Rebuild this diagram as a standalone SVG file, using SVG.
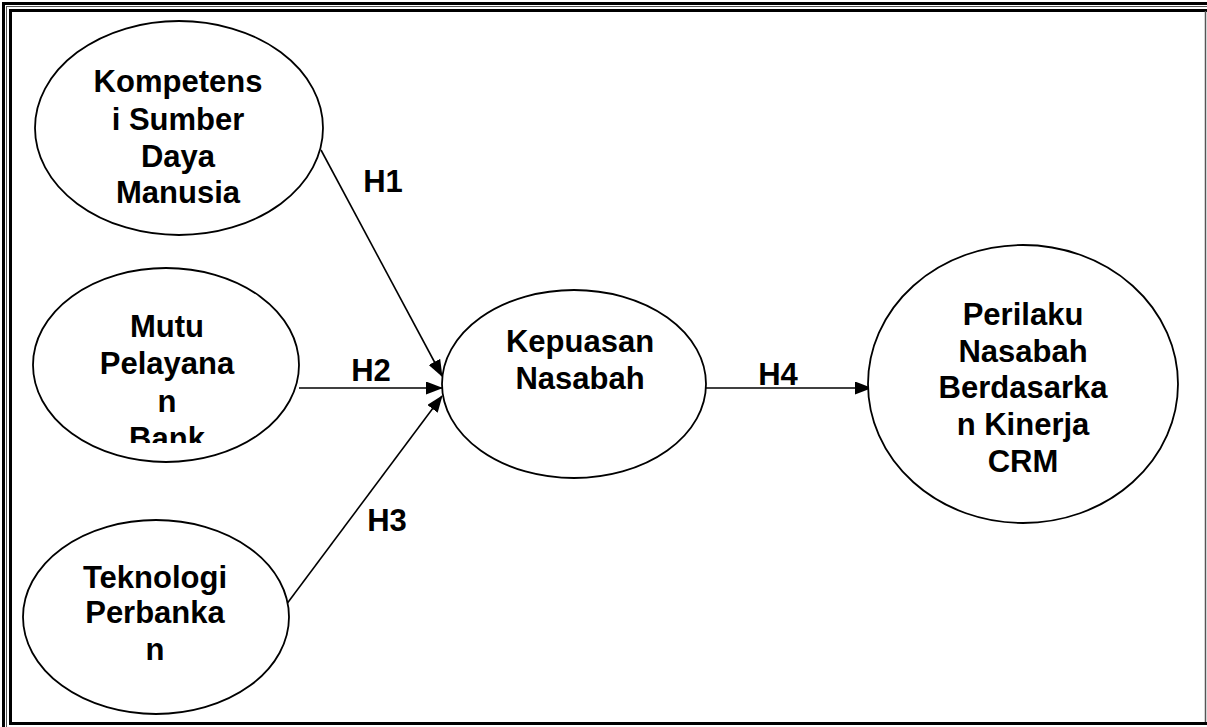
<svg xmlns="http://www.w3.org/2000/svg" width="1207" height="727" viewBox="0 0 1207 727">
<style>
.node{fill:#fff;stroke:#000;stroke-width:1.8}
.t{font-family:"Liberation Sans",Arial,sans-serif;font-weight:bold;font-size:31px;text-anchor:middle;fill:#000}
.edge{stroke:#000;stroke-width:1.6;fill:none;marker-end:url(#ah)}
</style>
<defs>
<marker id="ah" markerUnits="userSpaceOnUse" markerWidth="17" markerHeight="13" refX="16" refY="6.5" orient="auto">
<path d="M0,0 L17,6.5 L0,13 Z" fill="#000"/>
</marker>
<clipPath id="bankclip"><rect x="0" y="0" width="400" height="443"/></clipPath>
</defs>
<rect x="0" y="0" width="1207" height="727" fill="#fff"/>
<g id="frame" fill="none">
<rect x="3.5" y="3.5" width="1215" height="735" stroke="#000" stroke-width="3"/>
<rect x="6.5" y="6.5" width="1210" height="730" stroke="#555" stroke-width="1"/>
<path d="M10.5,724 L10.5,10.5 L1207,10.5" stroke="#000" stroke-width="3"/>
<path d="M1205.5,11 L1205.5,722" stroke="#555" stroke-width="1.5"/>
<path d="M9,723.5 L1207,723.5" stroke="#000" stroke-width="3"/>
</g>
<g id="connectors">
<line class="edge" x1="321" y1="150" x2="442" y2="376"/>
<line class="edge" x1="299" y1="388" x2="442" y2="388"/>
<line class="edge" x1="286" y1="605" x2="442" y2="396"/>
<line class="edge" x1="706" y1="388" x2="871" y2="388"/>
<text class="t" x="383" y="192">H1</text>
<text class="t" x="371" y="381">H2</text>
<text class="t" x="387" y="531">H3</text>
<text class="t" x="778" y="385">H4</text>
</g>
<g id="n-kompetensi">
<ellipse class="node" cx="179" cy="128" rx="144" ry="107"/>
<text class="t" x="178" y="92">Kompetens</text>
<text class="t" x="178" y="130">i Sumber</text>
<text class="t" x="178" y="167">Daya</text>
<text class="t" x="178" y="203">Manusia</text>
</g>
<g id="n-mutu">
<ellipse class="node" cx="166" cy="365" rx="133" ry="97"/>
<text class="t" x="167" y="337">Mutu</text>
<text class="t" x="167" y="374">Pelayana</text>
<text class="t" x="167" y="412">n</text>
<text class="t" x="167" y="449" clip-path="url(#bankclip)">Bank</text>
</g>
<g id="n-teknologi">
<ellipse class="node" cx="156" cy="617" rx="133" ry="97"/>
<text class="t" x="155" y="588">Teknologi</text>
<text class="t" x="155" y="623">Perbanka</text>
<text class="t" x="155" y="660">n</text>
</g>
<g id="n-kepuasan">
<ellipse class="node" cx="574" cy="384" rx="132" ry="94"/>
<text class="t" x="580" y="352">Kepuasan</text>
<text class="t" x="580" y="389">Nasabah</text>
</g>
<g id="n-perilaku">
<ellipse class="node" cx="1023" cy="384" rx="155" ry="139"/>
<text class="t" x="1023" y="325">Perilaku</text>
<text class="t" x="1023" y="362">Nasabah</text>
<text class="t" x="1023" y="398">Berdasarka</text>
<text class="t" x="1023" y="435">n Kinerja</text>
<text class="t" x="1023" y="472">CRM</text>
</g>
</svg>
